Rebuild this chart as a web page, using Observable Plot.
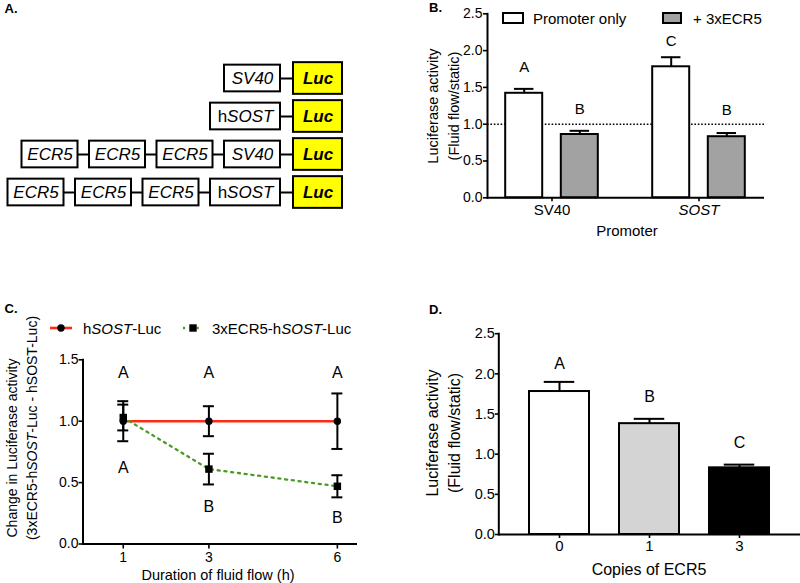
<!DOCTYPE html>
<html><head><meta charset="utf-8">
<script src="https://cdn.jsdelivr.net/npm/d3@7"></script>
<script src="https://cdn.jsdelivr.net/npm/@observablehq/plot@0.6"></script>
<style>
html,body{margin:0;padding:0;background:#fff;}
#fig{position:relative;width:800px;height:583px;overflow:hidden;font-family:"Liberation Sans",Arial,sans-serif;color:#000;}
.wrap{position:absolute;}
.pl{position:absolute;font-weight:bold;font-size:13px;transform:translate(-50%,-50%);white-space:nowrap;}
.vl{position:absolute;white-space:nowrap;text-align:center;transform:translate(-50%,-50%) rotate(-90deg);}
.hl{position:absolute;white-space:nowrap;transform:translate(-50%,-50%);}
.ll{position:absolute;white-space:nowrap;transform:translate(0,-50%);}
.box{position:absolute;box-sizing:border-box;border:2px solid #000;}
</style></head><body><div id="fig"></div>
<script>
// ---------- DATA ----------
// Panel A: construct diagram
const constructRows = [["SV40"], ["hSOST"], ["ECR5", "ECR5", "ECR5", "SV40"], ["ECR5", "ECR5", "ECR5", "hSOST"]];
const reporterName = "Luc";

// Panel B
const bPromoters = ["SV40", "SOST"];
const bSeries = ["Promoter only", "+ 3xECR5"];
const bPromoterOnly = [1.42, 1.78];
const bPromoterOnlyErr = [0.06, 0.13];
const bEcr5 = [0.86, 0.83];
const bEcr5Err = [0.05, 0.05];
const bPromoterOnlyLetters = ["A", "C"];
const bEcr5Letters = ["B", "B"];
const bPromoterOnlyLetterY = [1.78, 2.13];
const bEcr5LetterY = [1.20, 1.19];
const bRefLine = [1.0];

// Panel C
const cTimes = [1, 3, 6];
const cHsostMean = [1.0, 1.0, 1.0];
const cHsostErr = [0.163, 0.122, 0.226];
const cEcr5Mean = [1.03, 0.61, 0.47];
const cEcr5Err = [0.105, 0.125, 0.09];
const cHsostLetters = ["A", "A", "A"];
const cHsostLetterY = [1.39, 1.39, 1.39];
const cEcr5Letters = ["A", "B", "B"];
const cEcr5LetterY = [0.62, 0.30, 0.21];

// Panel D
const dCopies = ["0", "1", "3"];
const dMean = [1.78, 1.38, 0.83];
const dErr = [0.12, 0.06, 0.04];
const dLetters = ["A", "B", "C"];
const dLetterY = [2.13, 1.71, 1.135];

// ---------- HELPERS ----------
const fig = document.getElementById("fig");
const FONT = '"Liberation Sans", Arial, sans-serif';
const baseStyle = {fontFamily: FONT, color: "black", background: "transparent", overflow: "visible"};

function place(svg, left, top, w, h) {
  const d = document.createElement("div");
  d.className = "wrap";
  d.style.left = left + "px"; d.style.top = top + "px";
  d.style.width = w + "px"; d.style.height = h + "px";
  d.appendChild(svg);
  fig.appendChild(d);
}
function html(cls, inner, x, y, extra = {}) {
  const d = document.createElement("div");
  d.className = cls;
  d.innerHTML = inner;
  d.style.left = x + "px"; d.style.top = y + "px";
  Object.assign(d.style, extra);
  fig.appendChild(d);
  return d;
}
function italicSOST(svg) {
  svg.querySelectorAll("text").forEach(t => {
    const s = t.textContent;
    if (s === "SOST") t.setAttribute("font-style", "italic");
    else if (s === "hSOST") t.innerHTML = '<tspan font-style="normal">h</tspan><tspan font-style="italic">SOST</tspan>';
  });
}

// ---------- PANEL A ----------
const boxW = {SV40: 56, hSOST: 70, ECR5: 56, Luc: 49};
const rightEnd = 342, lucGap = 13, gap = 11.5;
const boxes = [], links = [];
constructRows.forEach((row, r) => {
  let x2 = rightEnd;
  const items = [...row, reporterName].reverse();
  items.forEach((name, k) => {
    const x1 = x2 - boxW[name];
    boxes.push({row: r, name, x1, x2, cx: (x1 + x2) / 2});
    if (k < items.length - 1) {
      const g = k === 0 ? lucGap : gap;
      links.push({row: r, x1: x1 - g, x2: x1});
      x2 = x1 - g;
    }
  });
});
const promBoxes = boxes.filter(b => b.name !== reporterName);
const lucBoxes = boxes.filter(b => b.name === reporterName);
const svgA = Plot.plot({
  width: 360, height: 170, marginLeft: 0, marginRight: 0, marginTop: 8.3, marginBottom: 8.5,
  style: baseStyle,
  x: {domain: [0, 360], axis: null},
  y: {type: "band", domain: [0, 1, 2, 3], padding: 0, axis: null},
  marks: [
    Plot.ruleY(links, {y: "row", x1: "x1", x2: "x2", stroke: "black", strokeWidth: 2}),
    Plot.barX(promBoxes, {y: "row", x1: "x1", x2: "x2", insetTop: 5.65, insetBottom: 5.65, fill: "white", stroke: "black", strokeWidth: 2}),
    Plot.barX(lucBoxes, {y: "row", x1: "x1", x2: "x2", insetTop: 3.15, insetBottom: 3.15, fill: "#ffff00", stroke: "black", strokeWidth: 2}),
    Plot.text(promBoxes, {y: "row", x: "cx", text: "name", fontSize: 17, fontStyle: "italic", fill: "black"}),
    Plot.text(lucBoxes, {y: "row", x: "cx", text: "name", fontSize: 17, fontStyle: "italic", fontWeight: "bold", fill: "black"})
  ]
});
italicSOST(svgA);
place(svgA, 0, 50, 360, 170);

// ---------- PANEL B ----------
const bMeans = [bPromoterOnly, bEcr5], bErrs = [bPromoterOnlyErr, bEcr5Err];
const bLet = [bPromoterOnlyLetters, bEcr5Letters], bLetY = [bPromoterOnlyLetterY, bEcr5LetterY];
const bFill = ["white", "#a2a2a2"];
const bShift = [-27.8, 27.8];
const bMarks = [Plot.ruleY(bRefLine, {stroke: "black", strokeWidth: 1.4, strokeDasharray: "1.6 1.8"})];
bSeries.forEach((s, j) => {
  const data = bPromoters.map((p, i) => ({promoter: p, value: bMeans[j][i], top: bMeans[j][i] + bErrs[j][i], letter: bLet[j][i], ly: bLetY[j][i]}));
  bMarks.push(
    Plot.ruleX(data, {x: "promoter", y1: "value", y2: "top", dx: bShift[j], stroke: "black", strokeWidth: 2}),
    Plot.tickY(data, {x: "promoter", y: "top", dx: bShift[j], insetLeft: 8.75, insetRight: 8.75, stroke: "black", strokeWidth: 2}),
    Plot.barY(data, {x: "promoter", y: "value", dx: bShift[j], fill: bFill[j], stroke: "black", strokeWidth: 2}),
    Plot.text(data, {x: "promoter", y: "ly", text: "letter", dx: bShift[j], fontSize: 15, fill: "black"})
  );
});
bMarks.push(
  Plot.axisY({ticks: [0, 0.5, 1, 1.5, 2, 2.5], tickFormat: ".1f", tickSize: 4, tickPadding: 1, fontSize: 14, strokeWidth: 1.6, label: null}),
  Plot.axisX({tickSize: 4, tickPadding: 2.3, fontSize: 15, strokeWidth: 1.6, label: null}),
  Plot.frame({anchor: "left", stroke: "black", strokeWidth: 2}),
  Plot.ruleY([0], {stroke: "black", strokeWidth: 2})
);
const svgB = Plot.plot({
  width: 400, height: 260, marginLeft: 87, marginRight: 36, marginTop: 13.3, marginBottom: 62.7,
  style: baseStyle,
  x: {domain: bPromoters, paddingInner: 0.746, paddingOuter: 0.31},
  y: {domain: [0, 2.5]},
  marks: bMarks
});
italicSOST(svgB);
place(svgB, 400, 0, 400, 260);

// ---------- PANEL C ----------
const cH = cTimes.map((t, i) => ({t, m: cHsostMean[i], lo: cHsostMean[i] - cHsostErr[i], hi: cHsostMean[i] + cHsostErr[i], letter: cHsostLetters[i], ly: cHsostLetterY[i]}));
const cE = cTimes.map((t, i) => ({t, m: cEcr5Mean[i], lo: cEcr5Mean[i] - cEcr5Err[i], hi: cEcr5Mean[i] + cEcr5Err[i], letter: cEcr5Letters[i], ly: cEcr5LetterY[i]}));
const cAll = [...cE, ...cH];
const RED = "#ff2a14", GREEN = "#4a9b25";
const svgC = Plot.plot({
  width: 400, height: 243, marginLeft: 82.5, marginRight: 43, marginTop: 19.3, marginBottom: 39.5,
  style: baseStyle,
  x: {domain: [0.06, 6.47]},
  y: {domain: [0, 1.5]},
  marks: [
    Plot.line(cH, {x: "t", y: "m", stroke: RED, strokeWidth: 2.6}),
    Plot.line(cE, {x: "t", y: "m", stroke: GREEN, strokeWidth: 2.3, strokeDasharray: "2.1 4.7"}),
    Plot.ruleX(cAll, {x: "t", y1: "lo", y2: "hi", stroke: "black", strokeWidth: 2}),
    Plot.ruleY(cAll, {x1: "t", x2: "t", y: "hi", insetLeft: -5.5, insetRight: -5.5, stroke: "black", strokeWidth: 2}),
    Plot.ruleY(cAll, {x1: "t", x2: "t", y: "lo", insetLeft: -5.5, insetRight: -5.5, stroke: "black", strokeWidth: 2}),
    Plot.dot(cH, {x: "t", y: "m", r: 3.7, fill: "black", stroke: null, symbol: "circle"}),
    Plot.dot(cE, {x: "t", y: "m", r: 4.2, fill: "black", stroke: null, symbol: "square"}),
    Plot.text(cH, {x: "t", y: "ly", text: "letter", fontSize: 16, fill: "black"}),
    Plot.text(cE, {x: "t", y: "ly", text: "letter", fontSize: 16, fill: "black"}),
    Plot.axisY({ticks: [0, 0.5, 1, 1.5], tickFormat: ".1f", tickSize: 4, tickPadding: 0.5, fontSize: 14, strokeWidth: 1.6, label: null}),
    Plot.axisX({ticks: cTimes, tickFormat: d => String(d), tickSize: 5, tickPadding: 3, fontSize: 14, strokeWidth: 1.6, label: null}),
    Plot.frame({anchor: "left", stroke: "black", strokeWidth: 2}),
    Plot.ruleY([0], {stroke: "black", strokeWidth: 2})
  ]
});
place(svgC, 0, 340, 400, 243);

// ---------- PANEL D ----------
const dData = dCopies.map((c, i) => ({copies: c, value: dMean[i], top: dMean[i] + dErr[i], letter: dLetters[i], ly: dLetterY[i]}));
const svgD = Plot.plot({
  width: 400, height: 283, marginLeft: 98.3, marginRight: 0, marginTop: 33.2, marginBottom: 49,
  style: baseStyle,
  x: {domain: dCopies, padding: 0.332},
  y: {domain: [0, 2.5]},
  color: {domain: dCopies, range: ["white", "#d4d4d4", "black"]},
  marks: [
    Plot.ruleX(dData, {x: "copies", y1: "value", y2: "top", stroke: "black", strokeWidth: 2}),
    Plot.tickY(dData, {x: "copies", y: "top", insetLeft: 14.75, insetRight: 14.75, stroke: "black", strokeWidth: 2}),
    Plot.barY(dData, {x: "copies", y: "value", fill: "copies", stroke: "black", strokeWidth: 2}),
    Plot.text(dData, {x: "copies", y: "ly", text: "letter", fontSize: 16, fill: "black"}),
    Plot.axisY({ticks: [0, 0.5, 1, 1.5, 2, 2.5], tickFormat: ".1f", tickSize: 3.5, tickPadding: 0.5, fontSize: 14.5, strokeWidth: 1.6, label: null}),
    Plot.axisX({tickSize: 4, tickPadding: 1.8, fontSize: 15, strokeWidth: 1.6, label: null}),
    Plot.frame({anchor: "left", stroke: "black", strokeWidth: 2}),
    Plot.ruleY([0], {stroke: "black", strokeWidth: 2})
  ]
});
place(svgD, 400, 300, 400, 283);

// ---------- TEXT / LEGENDS ----------
html("pl", "A.", 11, 8);
html("pl", "B.", 435.5, 6.5);
html("pl", "C.", 11, 308);
html("pl", "D.", 435.5, 309);

// B legend + titles
const bx1 = document.createElement("div"); bx1.className = "box";
Object.assign(bx1.style, {left: "502px", top: "12px", width: "22px", height: "11.5px", background: bFill[0]}); fig.appendChild(bx1);
html("ll", bSeries[0], 533, 17.5, {fontSize: "15px"});
const bx2 = document.createElement("div"); bx2.className = "box";
Object.assign(bx2.style, {left: "662px", top: "12px", width: "20px", height: "11.5px", background: bFill[1]}); fig.appendChild(bx2);
html("ll", bSeries[1], 693, 17.5, {fontSize: "15px"});
html("vl", "Luciferase activity<br>(Fluid flow/static)", 443.5, 106, {fontSize: "14.5px", lineHeight: "21px"});
html("hl", "Promoter", 627, 230, {fontSize: "15px"});

// C legend + titles
html("ll", `<svg width="26" height="10" style="display:block"><line x1="1" x2="23" y1="5" y2="5" stroke="${RED}" stroke-width="2.6"/><circle cx="12" cy="5" r="3.7" fill="black"/></svg>`, 49, 328);
html("ll", "h<i>SOST</i>-Luc", 83, 328, {fontSize: "15px"});
html("ll", `<svg width="26" height="10" style="display:block"><line x1="1" x2="21" y1="5" y2="5" stroke="${GREEN}" stroke-width="2.3" stroke-dasharray="2.1 4.7"/><rect x="7.3" y="1.3" width="7.4" height="7.4" fill="black"/></svg>`, 182, 328);
html("ll", "3xECR5-h<i>SOST</i>-Luc", 212, 328, {fontSize: "15px"});
html("vl", "Change in Luciferase activity", 12, 447.5, {fontSize: "14px"});
html("vl", "(3xECR5-h<i>SOST</i>-Luc - hSOST-Luc)", 32, 427.5, {fontSize: "14px"});
html("hl", "Duration of fluid flow (h)", 218, 575, {fontSize: "14.5px"});

// D titles
html("vl", "Luciferase activity<br>(Fluid flow/static)", 444, 433, {fontSize: "16px", lineHeight: "22px"});
html("hl", "Copies of ECR5", 649, 570, {fontSize: "16px"});
</script></body></html>
